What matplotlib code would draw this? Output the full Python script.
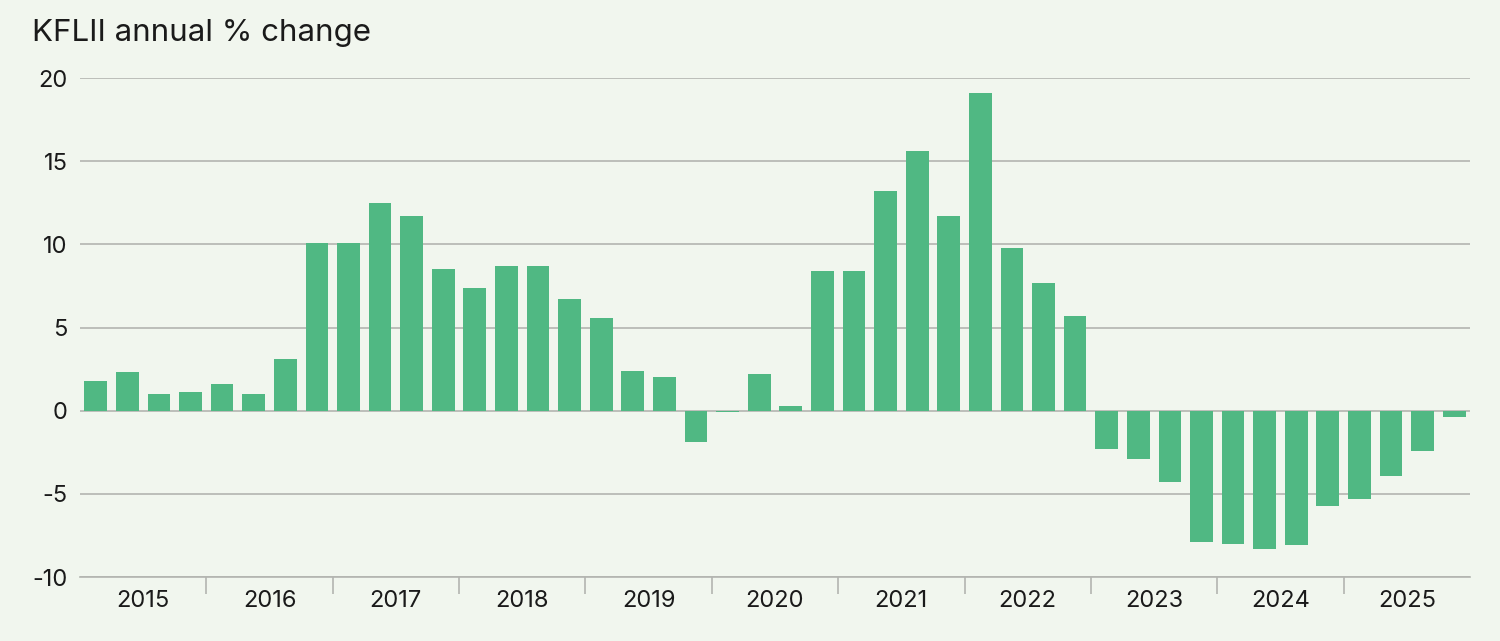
import matplotlib.pyplot as plt
import numpy as np

plt.rcParams['font.family'] = ['Inter', 'DejaVu Sans']

# Quarterly KFLII annual % change, 2015 Q1 - 2025 Q4
years = ['2015', '2016', '2017', '2018', '2019', '2020',
         '2021', '2022', '2023', '2024', '2025']
valores = [1.8, 2.3, 1.0, 1.1,
           1.6, 1.0, 3.1, 10.1,
           10.1, 12.5, 11.7, 8.5,
           7.4, 8.7, 8.7, 6.7,
           5.6, 2.4, 2.0, -1.9,
           -0.1, 2.2, 0.3, 8.4,
           8.4, 13.2, 15.6, 11.7,
           19.1, 9.8, 7.7, 5.7,
           -2.3, -2.9, -4.3, -7.9,
           -8.0, -8.3, -8.1, -5.7,
           -5.3, -3.9, -2.4, -0.4]

bg = '#f1f6ee'
verde = '#50b883'
cinza = '#b3b5b0'

fig = plt.figure(figsize=(15, 6.41), dpi=100, facecolor=bg)
ax = fig.add_axes([0.0533, 0.0998, 0.9267, 0.7785], facecolor=bg)

x = np.arange(len(valores))
ax.bar(x, valores, width=0.72, color=verde, zorder=3)

ax.set_xlim(-0.5, len(valores) - 0.5)
ax.set_ylim(-10, 20)
ax.set_yticks([-10, -5, 0, 5, 10, 15, 20])
ax.set_yticklabels(['-10', '-5', '0', '5', '10', '15', '20'])
ax.yaxis.grid(True, color=cinza, linewidth=1.2, zorder=0)
ax.tick_params(axis='y', length=0, pad=9, labelsize=17, labelcolor='#1a1a1a')

# year labels centred under each group of four quarters
ax.set_xticks([4 * i + 1.5 for i in range(len(years))])
ax.set_xticklabels(years)
ax.tick_params(axis='x', length=0, pad=9, labelsize=17, labelcolor='#1a1a1a')
ax.set_xticks([4 * i - 0.5 for i in range(1, len(years))], minor=True)
ax.tick_params(axis='x', which='minor', length=12, width=1.2, color=cinza)

for s in ['top', 'right', 'left']:
    ax.spines[s].set_visible(False)
ax.spines['bottom'].set_color(cinza)
ax.spines['bottom'].set_linewidth(1.2)

fig.text(0.021, 0.948, 'KFLII annual % change', fontsize=22.5,
         color='#1a1a1a', va='center', ha='left')

fig.savefig('out.png', dpi=100, facecolor=bg)
